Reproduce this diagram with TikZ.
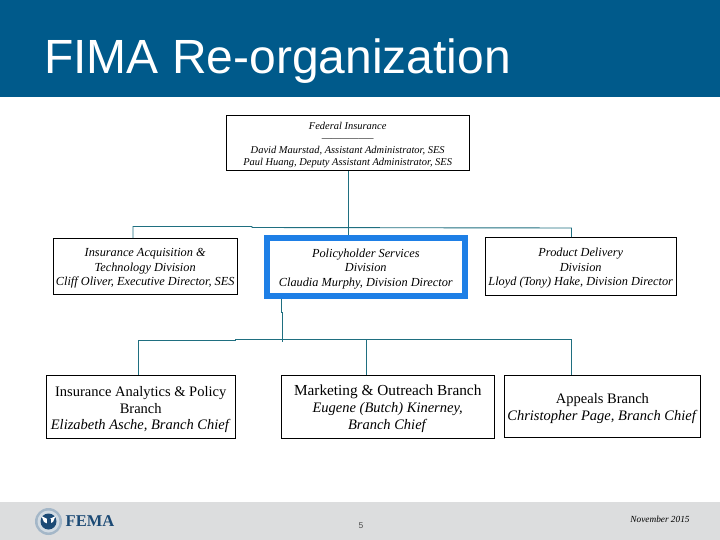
\documentclass[tikz,border=0pt]{standalone}
\usepackage{fontspec}
\setmainfont{Liberation Serif}
\setsansfont{Liberation Sans}
\definecolor{hdr}{HTML}{005A8B}
\definecolor{foot}{HTML}{DCDDDE}
\definecolor{conn}{HTML}{1F6F80}
\definecolor{hi}{HTML}{1E7FE6}
\definecolor{navy}{HTML}{1C4A75}
\newcommand{\lowerby}[1]{\rule{0pt}{#1pt}}
\tikzset{
  box/.style={draw=black,line width=0.9pt,fill=white,align=center,inner sep=0pt,font=\itshape\fontsize{12.3}{14.5}\selectfont,anchor=north west},
  topbox/.style={box,font=\itshape\fontsize{10.45}{12}\selectfont},
  lowbox/.style={box,font=\fontsize{14.5}{16.8}\selectfont},
  hibox/.style={box,draw=hi,line width=5.6pt},
  wire/.style={draw=conn,line width=0.9pt},
}
\begin{document}
\begin{tikzpicture}[x=1pt,y=-1pt]
\useasboundingbox (0,0) rectangle (720,540);
\fill[white] (0,0) rectangle (720,540);
\fill[hdr] (0,0) rectangle (720,97);
\fill[foot] (0,502) rectangle (720,540);
\node[anchor=base west,text=white,inner sep=0pt,font=\sffamily\fontsize{48}{52}\selectfont] (title) at (44,74) {FIMA Re-organization};

\node[topbox,minimum width=242.5pt,minimum height=55.5pt] (top) at (226,115) {\lowerby{11.5}Federal Insurance\\-----------------\\David Maurstad, Assistant Administrator, SES\\Paul Huang, Deputy Assistant Administrator, SES};
\node[box,minimum width=183.5pt,minimum height=55.5pt] (acq) at (53,238) {\lowerby{13}Insurance Acquisition \&\\Technology Division\\Cliff Oliver, Executive Director, SES};
\node[hibox,minimum width=198pt,minimum height=58pt] (pol) at (264,235) {\lowerby{13}Policyholder Services\\Division\\Claudia Murphy, Division Director};
\node[box,minimum width=191.5pt,minimum height=57.5pt] (prod) at (484.5,237) {\lowerby{13}Product Delivery\\Division\\Lloyd (Tony) Hake, Division Director};
\node[lowbox,minimum width=188.5pt,minimum height=62.5pt] (ana) at (46,375) {\lowerby{16}Insurance Analytics \& Policy\\Branch\\\textit{Elizabeth Asche, Branch Chief}};
\node[lowbox,minimum width=212.5pt,minimum height=62.5pt] (mkt) at (281,375) {\lowerby{14.5}{\fontsize{15.3}{16.8}\selectfont Marketing \& Outreach Branch}\\\textit{Eugene (Butch) Kinerney,}\\\textit{Branch Chief}};
\node[lowbox,minimum width=196pt,minimum height=62pt] (app) at (504,375) {\lowerby{14.5}Appeals Branch\\\textit{Christopher Page, Branch Chief}};

\coordinate (dropAcq) at (133,226.5);
\coordinate (jogAl) at (252,226.5);
\coordinate (jogAr) at (252,227.5);
\coordinate (dropProd) at (571.5,228);
\coordinate (dropAna) at (138.5,340.3);
\coordinate (jogBl) at (235,340.3);
\coordinate (jogBr) at (235,339.3);
\coordinate (dropMkt) at (366,339.3);
\coordinate (dropApp) at (571.5,339.3);
\coordinate (stemA) at (348.3,235);
\coordinate (stemBa) at (281.5,312);
\coordinate (stemBb) at (282.5,312);
\coordinate (stemBc) at (282.5,341.5);
\draw[wire] (top.south -| stemA) -- (stemA);
\draw[wire] (acq.north -| dropAcq) -- (dropAcq) -- (jogAl) -- (jogAr) -- (dropProd) -- (prod.north -| dropProd);
\draw[wire] (pol.south -| stemBa) -- (stemBa) -- (stemBb) -- (stemBc);
\draw[wire] (ana.north -| dropAna) -- (dropAna) -- (jogBl) -- (jogBr) -- (dropApp) -- (app.north -| dropApp);
\draw[wire] (dropMkt) -- (mkt.north -| dropMkt);

% footer
\node[font=\sffamily\fontsize{8.5}{10}\selectfont,text=black!70,inner sep=0pt] (page) at (361,526) {5};
\node[font=\itshape\fontsize{9.3}{11}\selectfont,inner sep=0pt] (date) at (660,519.5) {November 2015};
% seal
\fill[navy!40!white] (48.5,521.5) circle (13.5);
\fill[white!80!navy] (48.5,521.5) circle (11);
\fill[navy] (48.5,521.5) circle (8);
\fill[white] (41.5,516) -- (48.5,519.5) -- (55.5,516) -- (53,522) -- (48.5,524) -- (44,522) -- cycle;
\fill[navy] (46.5,519) rectangle (50.5,526);
\node[text=navy,inner sep=0pt,font=\bfseries\fontsize{16.5}{18}\selectfont] (logo) at (90,521) {FEMA};
\end{tikzpicture}
\end{document}
